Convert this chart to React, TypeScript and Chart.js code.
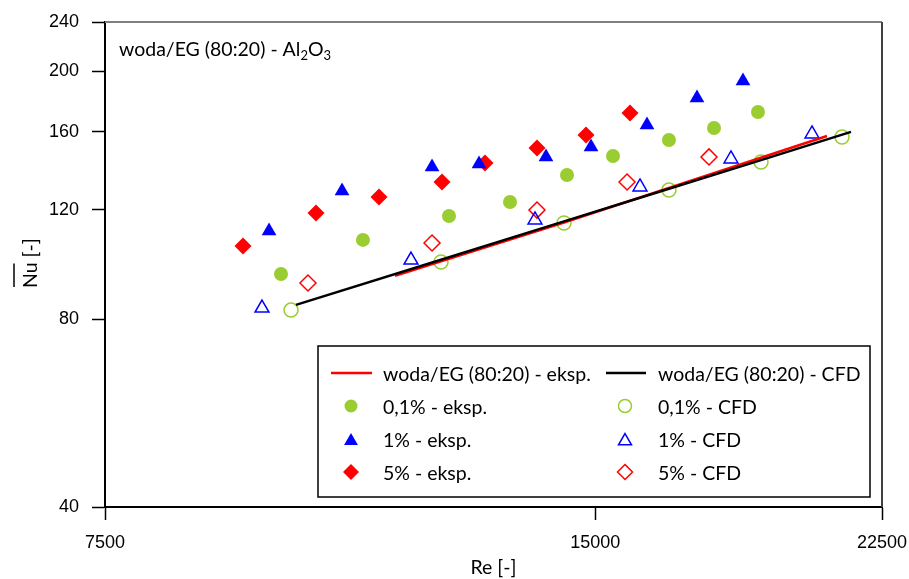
import React, { useEffect, useRef } from 'react';
import { Chart, registerables } from 'chart.js';
Chart.register(...registerables);

// ---- data (Re, Nu) ----
const xTicks = [7500, 15000, 22500];
const yTicks = [40, 80, 120, 160, 200, 240];

const reBaseCfd = [9825, 12061, 14352, 16648, 18962, 21535];
const nuBaseCfd = [84.4, 99.7, 114.9, 129.6, 144.1, 159.9];

const reBaseEksp = [11302, 14352, 20816];
const nuBaseEksp = [94.0, 114.4, 157.5];

const re01Eksp = [9619, 10801, 12198, 13297, 14413, 15382, 16648, 17743, 18881];
const nu01Eksp = [94.6, 107.3, 117.2, 123.4, 136.4, 146.3, 155.2, 162.2, 172.1];

const re1Eksp = [9458, 10486, 11909, 12727, 13991, 14911, 16139, 17321, 18485];
const nu1Eksp = [110.9, 128.6, 140.5, 142.0, 145.8, 151.2, 164.1, 181.3, 193.0];

const re5Eksp = [9116, 10107, 11049, 12078, 12835, 13814, 14806, 15756];
const nu5Eksp = [104.9, 118.5, 125.7, 132.9, 142.6, 150.7, 158.1, 171.5];

const re01Cfd = [9756, 12061, 14352, 16648, 18962, 21263];
const nu01Cfd = [82.8, 98.9, 114.2, 129.0, 143.1, 156.9];

const re1Cfd = [9364, 11560, 13775, 15980, 18174, 20380];
const nu1Cfd = [83.4, 99.6, 115.5, 130.5, 144.7, 158.7];

const re5Cfd = [9993, 11909, 13814, 15690, 17618];
const nu5Cfd = [91.5, 106.1, 119.8, 132.9, 145.8];

const GREEN = '#9ACD32';
const BLUE = '#0000FF';
const RED = '#FF0000';
const TEXT_FONT = 'Lato, "Open Sans", sans-serif';
const TICK_FONT = '"Liberation Sans", Arial, sans-serif';
const TXT = 19.5;

const pts = (xs: number[], ys: number[]) => xs.map((x, i) => ({ x, y: ys[i] }));

function drawMarker(ctx: CanvasRenderingContext2D, style: string, x: number, y: number, r: number, fill: string | null, stroke: string, lw: number) {
  ctx.beginPath();
  if (style === 'circle') {
    ctx.arc(x, y, r, 0, Math.PI * 2);
  } else if (style === 'triangle') {
    ctx.moveTo(x, y - r);
    ctx.lineTo(x + 0.866 * r, y + 0.5 * r);
    ctx.lineTo(x - 0.866 * r, y + 0.5 * r);
  } else {
    ctx.moveTo(x, y - r);
    ctx.lineTo(x + r, y);
    ctx.lineTo(x, y + r);
    ctx.lineTo(x - r, y);
  }
  ctx.closePath();
  if (fill) {
    ctx.fillStyle = fill;
    ctx.fill();
  } else {
    ctx.strokeStyle = stroke;
    ctx.lineWidth = lw;
    ctx.stroke();
  }
}

const decorPlugin = {
  id: 'decor',
  afterDraw(chart: any) {
    const ctx: CanvasRenderingContext2D = chart.ctx;
    const a = chart.chartArea;
    ctx.save();
    // frame top / right
    ctx.strokeStyle = '#7f7f7f';
    ctx.lineWidth = 2;
    ctx.beginPath();
    ctx.moveTo(a.left, a.top);
    ctx.lineTo(a.right, a.top);
    ctx.stroke();
    ctx.strokeStyle = '#404040';
    ctx.beginPath();
    ctx.moveTo(a.right, a.top);
    ctx.lineTo(a.right, a.bottom);
    ctx.stroke();

    // annotation
    ctx.fillStyle = '#000';
    ctx.textBaseline = 'alphabetic';
    ctx.textAlign = 'left';
    let x = 119;
    const by = 56;
    const parts: [string, boolean][] = [['woda/EG (80:20) - Al', false], ['2', true], ['O', false], ['3', true]];
    for (const [t, sub] of parts) {
      ctx.font = (sub ? '13px ' : TXT + 'px ') + TEXT_FONT;
      ctx.fillText(t, x, sub ? by + 4 : by);
      x += ctx.measureText(t).width;
    }

    // y title with overline on Nu
    ctx.save();
    ctx.translate(37, 288);
    ctx.rotate(-Math.PI / 2);
    ctx.font = TXT + 'px ' + TEXT_FONT;
    ctx.fillText('Nu [-]', 0, 0);
    const w = ctx.measureText('Nu').width;
    ctx.strokeStyle = '#000';
    ctx.lineWidth = 1.5;
    ctx.beginPath();
    ctx.moveTo(1, -23);
    ctx.lineTo(w - 1, -23);
    ctx.stroke();
    ctx.restore();

    // legend
    const L = 318, T = 346, R = 870, B = 497;
    ctx.fillStyle = '#fff';
    ctx.fillRect(L, T, R - L, B - T);
    ctx.strokeStyle = '#000';
    ctx.lineWidth = 1.5;
    ctx.strokeRect(L, T, R - L, B - T);
    const rows = [373, 406, 439, 472];
    const cols = [{ l0: 331, l1: 372, m: 351, t: 383 }, { l0: 606, l1: 646, m: 625, t: 658 }];
    const ds = chart.data.datasets;
    const items = [
      { i: 1, c: 0, r: 0 }, { i: 0, c: 1, r: 0 },
      { i: 2, c: 0, r: 1 }, { i: 5, c: 1, r: 1 },
      { i: 3, c: 0, r: 2 }, { i: 6, c: 1, r: 2 },
      { i: 4, c: 0, r: 3 }, { i: 7, c: 1, r: 3 },
    ];
    ctx.font = TXT + 'px ' + TEXT_FONT;
    ctx.textBaseline = 'middle';
    for (const it of items) {
      const d = ds[it.i];
      const col = cols[it.c];
      const y = rows[it.r];
      if (d.showLine) {
        ctx.strokeStyle = d.borderColor;
        ctx.lineWidth = 2.5;
        ctx.beginPath();
        ctx.moveTo(col.l0, y);
        ctx.lineTo(col.l1, y);
        ctx.stroke();
      } else {
        const filled = d.borderWidth === 0;
        const off = d.pointStyle === 'triangle' ? 2 : 0;
        drawMarker(ctx, d.pointStyle, col.m, y + off, d.pointRadius - 0.5, filled ? d.backgroundColor : null, d.borderColor, 1.5);
      }
      ctx.fillStyle = '#000';
      ctx.fillText(d.label, col.t, y + 2);
    }
    ctx.restore();
  },
};

export default function App() {
  const ref = useRef<HTMLCanvasElement | null>(null);
  useEffect(() => {
    document.body.style.margin = '0';
    const datasets: any[] = [
      { label: 'woda/EG (80:20) - CFD', data: pts(reBaseCfd, nuBaseCfd), showLine: true, borderColor: '#000', backgroundColor: '#000', borderWidth: 2.5, pointRadius: 0, order: 0 },
      { label: 'woda/EG (80:20) - eksp.', data: pts(reBaseEksp, nuBaseEksp), showLine: true, borderColor: RED, backgroundColor: RED, borderWidth: 2.5, pointRadius: 0, order: 1 },
      { label: '0,1% - eksp.', data: pts(re01Eksp, nu01Eksp), pointStyle: 'circle', pointRadius: 7, backgroundColor: GREEN, borderColor: GREEN, borderWidth: 0, order: 5 },
      { label: '1% - eksp.', data: pts(re1Eksp, nu1Eksp), pointStyle: 'triangle', pointRadius: 8.5, backgroundColor: BLUE, borderColor: BLUE, borderWidth: 0, order: 5 },
      { label: '5% - eksp.', data: pts(re5Eksp, nu5Eksp), pointStyle: 'rectRot', pointRadius: 8.5, backgroundColor: RED, borderColor: RED, borderWidth: 0, order: 5 },
      { label: '0,1% - CFD', data: pts(re01Cfd, nu01Cfd), pointStyle: 'circle', pointRadius: 7, backgroundColor: 'rgba(0,0,0,0)', borderColor: GREEN, borderWidth: 1.5, order: 3 },
      { label: '1% - CFD', data: pts(re1Cfd, nu1Cfd), pointStyle: 'triangle', pointRadius: 8, backgroundColor: 'rgba(0,0,0,0)', borderColor: BLUE, borderWidth: 1.5, order: 3 },
      { label: '5% - CFD', data: pts(re5Cfd, nu5Cfd), pointStyle: 'rectRot', pointRadius: 8, backgroundColor: 'rgba(0,0,0,0)', borderColor: RED, borderWidth: 1.5, order: 3 },
    ];
    const chart = new Chart(ref.current as HTMLCanvasElement, {
      type: 'scatter',
      data: { datasets },
      options: {
        animation: false,
        responsive: false,
        events: [],
        layout: { padding: { top: 22, right: 27, left: 0, bottom: 0 } },
        plugins: { legend: { display: false }, tooltip: { enabled: false } },
        scales: {
          x: {
            type: 'logarithmic',
            position: 'bottom',
            min: 7500,
            max: 22500,
            bounds: 'data',
            afterBuildTicks: (s: any) => { s.ticks = xTicks.map((v) => ({ value: v })); },
            afterFit: (s: any) => { s.height = 72; s.paddingLeft = 0; s.paddingRight = 0; },
            ticks: { callback: (v: any) => String(v), font: { family: TICK_FONT, size: 18 }, color: '#000', padding: 12, maxRotation: 0, autoSkip: false },
            grid: { drawOnChartArea: false, drawTicks: true, tickLength: 13, tickColor: '#000', tickWidth: 1.5 },
            border: { display: true, color: '#000', width: 2 },
            title: { display: true, text: 'Re [-]', font: { family: TEXT_FONT, size: TXT }, color: '#000', padding: 0 },
          },
          y: {
            type: 'logarithmic',
            min: 40,
            max: 240,
            bounds: 'data',
            afterBuildTicks: (s: any) => { s.ticks = yTicks.map((v) => ({ value: v })); },
            afterFit: (s: any) => { s.width = 105; s.paddingTop = 0; s.paddingBottom = 0; },
            ticks: { callback: (v: any) => String(v), font: { family: TICK_FONT, size: 18 }, color: '#000', padding: 13, autoSkip: false },
            grid: { drawOnChartArea: false, drawTicks: true, tickLength: 13, tickColor: '#000', tickWidth: 1.5 },
            border: { display: true, color: '#000', width: 2 },
          },
        },
      },
      plugins: [decorPlugin],
    } as any);
    return () => chart.destroy();
  }, []);
  return (
    <div style={{ position: 'fixed', left: 0, top: 0, width: 909, height: 579, background: '#fff' }}>
      <canvas ref={ref} width={909} height={579} />
    </div>
  );
}
